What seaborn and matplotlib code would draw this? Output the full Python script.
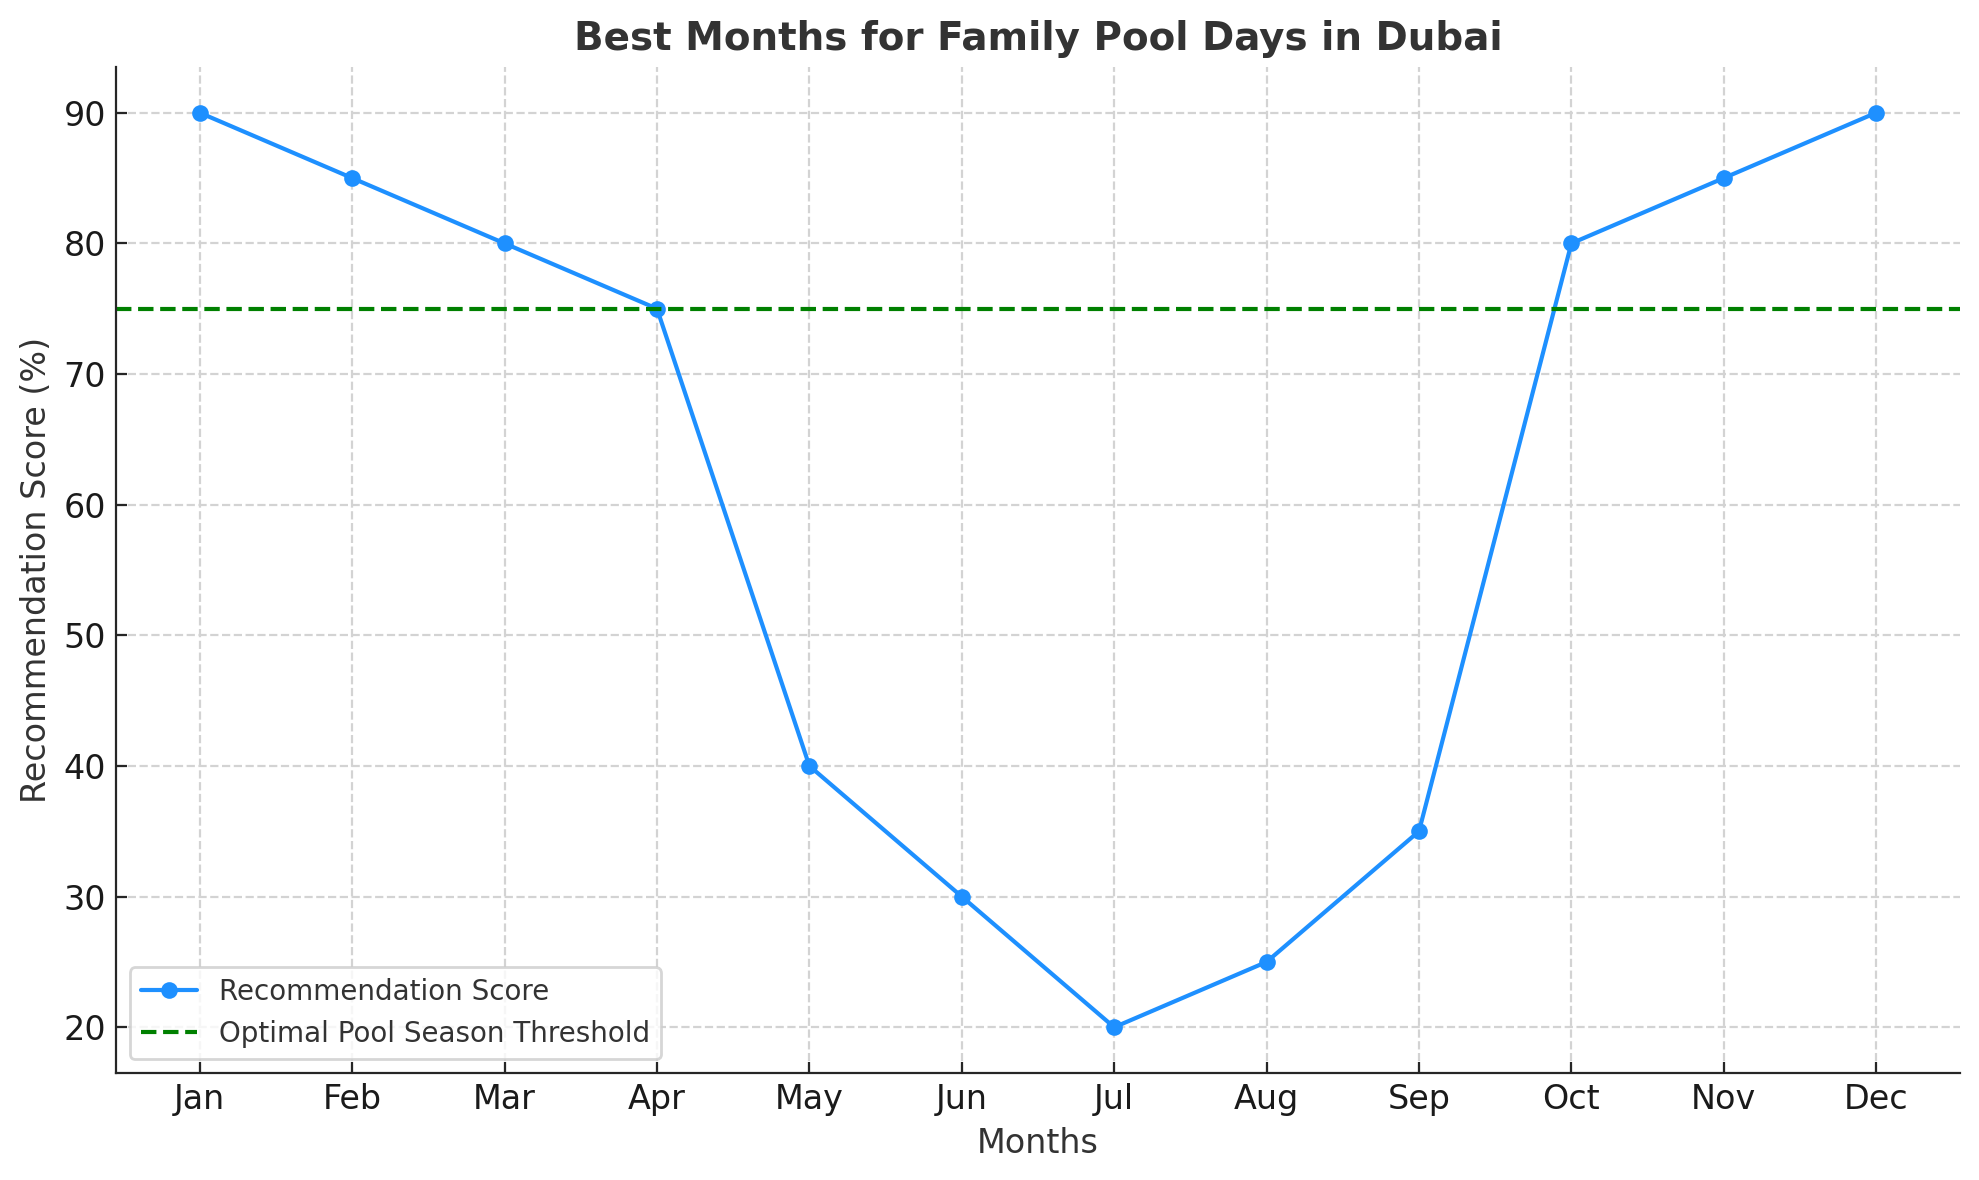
import matplotlib
matplotlib.use("Agg")
import matplotlib.pyplot as plt
import seaborn as sns
import pandas as pd

months = ["Jan", "Feb", "Mar", "Apr", "May", "Jun", "Jul", "Aug", "Sep", "Oct", "Nov", "Dec"]
scores = [90, 85, 80, 75, 40, 30, 20, 25, 35, 80, 85, 90]
threshold = 75

sns.set_style("ticks")
plt.rcParams['font.family'] = ['DejaVu Sans']
plt.rcParams['text.color'] = '#333333'

df = pd.DataFrame({"Month": months, "Score": scores})
df["idx"] = range(len(months))

fig = plt.figure(figsize=(9.895, 5.9), dpi=200)
ax = fig.add_axes([0.0586, 0.0907, 0.9318, 0.8525])

sns.lineplot(data=df, x="idx", y="Score", marker="o", color="#1E90FF", linewidth=1.5,
             markersize=6, markeredgewidth=0, label="Recommendation Score", ax=ax)
ax.axhline(threshold, color="green", linestyle="--", linewidth=1.5, label="Optimal Pool Season Threshold")

ax.set_xticks(df["idx"])
ax.set_xticklabels(months)
ax.set_xlabel("Months", fontsize=12, color="#333333")
ax.set_ylabel("Recommendation Score (%)", fontsize=12, color="#333333")
ax.set_title("Best Months for Family Pool Days in Dubai", fontsize=14, fontweight="bold", color="#333333")
ax.tick_params(axis="both", direction="in", labelsize=12, length=4, labelcolor="#1a1a1a")
ax.grid(True, linestyle="--", color="#d3d3d3", linewidth=0.8)
ax.set_axisbelow(True)
for s in ["top", "right"]:
    ax.spines[s].set_visible(False)
ax.legend(loc="lower left", fontsize=10, frameon=True)

fig.savefig("out.png", dpi=200)
